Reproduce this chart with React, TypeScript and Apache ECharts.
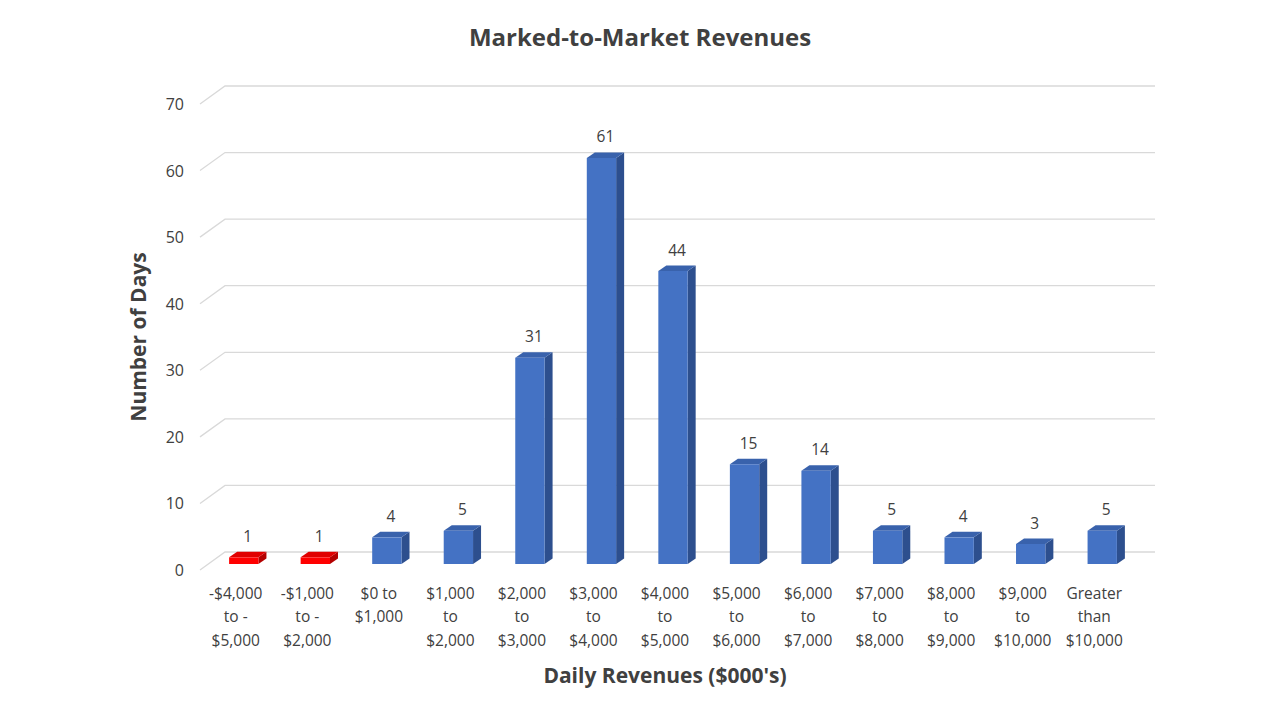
import React, { useEffect, useRef } from "react";
import * as echarts from "echarts";

const CATEGORIES = [
  "-$4,000\nto -\n$5,000",
  "-$1,000\nto -\n$2,000",
  "$0 to\n$1,000",
  "$1,000\nto\n$2,000",
  "$2,000\nto\n$3,000",
  "$3,000\nto\n$4,000",
  "$4,000\nto\n$5,000",
  "$5,000\nto\n$6,000",
  "$6,000\nto\n$7,000",
  "$7,000\nto\n$8,000",
  "$8,000\nto\n$9,000",
  "$9,000\nto\n$10,000",
  "Greater\nthan\n$10,000",
];
const VALUES = [1, 1, 4, 5, 31, 61, 44, 15, 14, 5, 4, 3, 5];
const IS_NEGATIVE = [true, true, false, false, false, false, false, false, false, false, false, false, false];
const Y_TICKS = [0, 10, 20, 30, 40, 50, 60, 70];

const FONT = "'Open Sans', 'Noto Sans', sans-serif";
const TEXT = "#404040";
const BLUE = { front: "#4472C4", side: "#2D4F8E", top: "#3962AC" };
const RED = { front: "#FF0000", side: "#B40000", top: "#E00000" };
// 3D geometry (pixels)
const FLOOR_DX = 25;
const FLOOR_DY = -18;
const BAR_OFF_X = 8;
const BAR_OFF_Y = -6;
const BAR_DX = 8;
const BAR_DY = -5.5;

export default function App() {
  const ref = useRef<HTMLDivElement>(null);
  useEffect(() => {
    if (!ref.current) return;
    const chart = echarts.init(ref.current, null, { renderer: "svg" });
    chart.setOption({
      animation: false,
      backgroundColor: "#ffffff",
      title: {
        text: "Marked-to-Market Revenues",
        left: "center",
        top: 19,
        textStyle: { fontFamily: FONT, fontSize: 24, fontWeight: "bold", color: TEXT },
      },
      grid: { left: 200, right: 150, top: 104, bottom: 150 },
      xAxis: {
        type: "category",
        data: CATEGORIES,
        axisLine: { show: false },
        axisTick: { show: false },
        axisLabel: {
          interval: 0,
          margin: 11,
          color: TEXT,
          fontFamily: FONT,
          fontSize: 15.5,
          lineHeight: 23.5,
          align: "center",
        },
        name: "Daily Revenues ($000's)",
        nameLocation: "middle",
        nameGap: 94,
        nameTextStyle: { fontFamily: FONT, fontSize: 21, fontWeight: "bold", color: TEXT },
      },
      yAxis: {
        type: "value",
        min: 0,
        max: 70,
        interval: 10,
        axisLine: { show: false },
        axisTick: { show: false },
        splitLine: { show: false },
        axisLabel: { margin: 16, color: TEXT, fontFamily: FONT, fontSize: 16 },
        name: "Number of Days",
        nameLocation: "middle",
        nameGap: 52,
        nameRotate: 90,
        nameTextStyle: { fontFamily: FONT, fontSize: 21, fontWeight: "bold", color: TEXT },
      },
      series: [
        {
          type: "custom",
          z: 1,
          silent: true,
          data: Y_TICKS.map((v) => [0, v]),
          renderItem: (params: any, api: any) => {
            const v = api.value(1);
            const y = api.coord([0, v])[1];
            const cs = params.coordSys;
            const x0 = cs.x;
            return {
              type: "polyline",
              shape: {
                points: [
                  [x0, y],
                  [x0 + FLOOR_DX, y + FLOOR_DY],
                  [x0 + cs.width + FLOOR_DX, y + FLOOR_DY],
                ],
              },
              style: { stroke: "#d9d9d9", lineWidth: 1.3, fill: "none" },
            };
          },
        },
        {
          type: "custom",
          z: 2,
          data: VALUES.map((v, i) => [i, v]),
          renderItem: (params: any, api: any) => {
            const i = api.value(0);
            const v = api.value(1);
            const top = api.coord([i, v]);
            const base = api.coord([i, 0]);
            const band = api.size([1, 0])[0];
            const w = band * 0.41;
            const cx = top[0] + BAR_OFF_X;
            const yT = top[1] + BAR_OFF_Y;
            const yB = base[1] + BAR_OFF_Y;
            const l = cx - w / 2;
            const r = cx + w / 2;
            const c = IS_NEGATIVE[i] ? RED : BLUE;
            return {
              type: "group",
              children: [
                {
                  type: "polygon",
                  shape: { points: [[r, yT], [r + BAR_DX, yT + BAR_DY], [r + BAR_DX, yB + BAR_DY], [r, yB]] },
                  style: { fill: c.side },
                },
                {
                  type: "polygon",
                  shape: { points: [[l, yT], [l + BAR_DX, yT + BAR_DY], [r + BAR_DX, yT + BAR_DY], [r, yT]] },
                  style: { fill: c.top },
                },
                {
                  type: "rect",
                  shape: { x: l, y: yT, width: w, height: yB - yT },
                  style: { fill: c.front },
                },
                {
                  type: "text",
                  style: {
                    text: String(v),
                    x: cx + BAR_DX / 2,
                    y: yT + BAR_DY - 8,
                    align: "center",
                    verticalAlign: "bottom",
                    fill: TEXT,
                    fontFamily: FONT,
                    fontSize: 15.5,
                  },
                },
              ],
            };
          },
        },
      ],
    });
    return () => chart.dispose();
  }, []);
  return (
    <div
      ref={ref}
      style={{ position: "fixed", left: 0, top: 0, width: 1280, height: 720 }}
    />
  );
}
